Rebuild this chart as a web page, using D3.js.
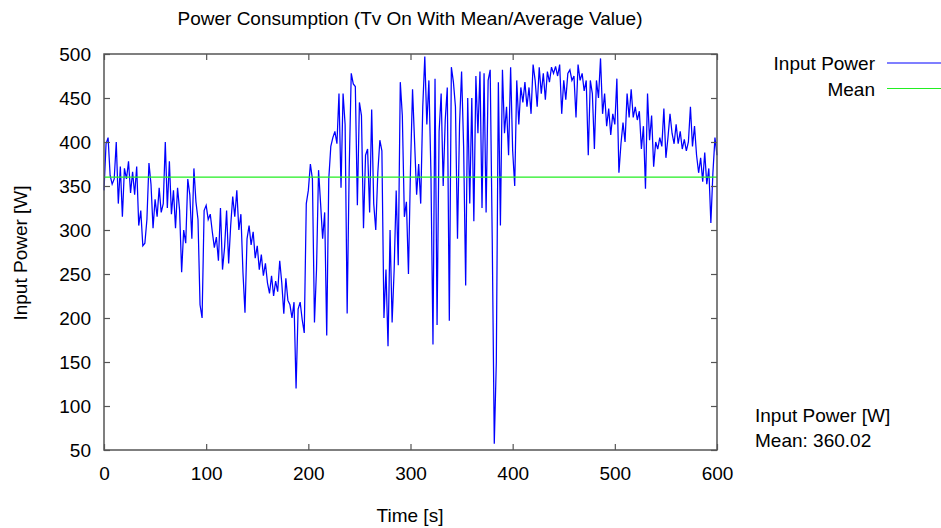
<!DOCTYPE html>
<html>
<head>
<meta charset="utf-8">
<script src="https://cdn.jsdelivr.net/npm/d3@7"></script>
<style>
  html, body { margin: 0; padding: 0; background: #fff; }
  svg text { font-family: "Liberation Sans", Arial, sans-serif; fill: #000; }
</style>
</head>
<body>
<svg id="chart" width="941" height="528"></svg>
<script>
// ---- data ----
const timeStep = 2; // seconds between samples
const inputPower = [
  345, 398, 405, 362, 352, 358, 400, 330, 372, 315,
  370, 358, 378, 342, 366, 340, 372, 305, 322, 282,
  285, 312, 376, 352, 302, 335, 315, 348, 320, 330,
  400, 325, 378, 318, 345, 302, 348, 322, 252, 300,
  285, 358, 340, 290, 370, 332, 312, 215, 200, 322,
  328, 312, 318, 298, 280, 292, 265, 325, 255, 280,
  322, 262, 305, 338, 315, 345, 300, 318, 252, 206,
  290, 305, 283, 298, 268, 282, 255, 272, 248, 262,
  240, 228, 248, 225, 242, 230, 265, 240, 205, 245,
  220, 215, 200, 218, 120, 210, 218, 198, 183, 330,
  345, 375, 358, 195, 255, 368, 330, 290, 320, 180,
  358, 395, 405, 412, 398, 455, 348, 455, 420, 205,
  370, 478, 466, 463, 328, 445, 430, 302, 385, 392,
  320, 437, 330, 300, 365, 402, 390, 200, 255, 168,
  300, 195, 255, 345, 260, 468, 430, 315, 332, 250,
  370, 460, 400, 340, 375, 330, 440, 497, 420, 470,
  365, 170, 472, 192, 412, 455, 350, 425, 462, 197,
  485, 468, 440, 290, 420, 480, 395, 237, 450, 330,
  450, 310, 475, 410, 480, 325, 478, 320, 470, 482,
  290, 57, 150, 468, 305, 482, 410, 440, 385, 485,
  390, 350, 470, 420, 462, 445, 468, 440, 462, 432,
  488, 470, 440, 485, 455, 478, 448, 480, 468, 485,
  478, 486, 475, 488, 432, 470, 448, 478, 482, 470,
  475, 428, 488, 470, 478, 458, 470, 385, 470, 455,
  392, 470, 450, 495, 432, 455, 418, 438, 408, 432,
  420, 472, 365, 398, 422, 400, 455, 428, 460, 428,
  440, 425, 435, 392, 418, 347, 455, 402, 430, 372,
  400, 392, 405, 395, 438, 382, 405, 432, 410, 398,
  420, 398, 412, 392, 403, 390, 400, 440, 395, 418,
  385, 365, 382, 355, 388, 352, 370, 308, 365, 405,
  385
];
const meanValue = 360.02;
const xTicks = [0, 100, 200, 300, 400, 500, 600];
const yTicks = [50, 100, 150, 200, 250, 300, 350, 400, 450, 500];
const titleText = "Power Consumption (Tv On With Mean/Average Value)";
const xLabel = "Time [s]";
const yLabel = "Input Power [W]";
const legendLabels = ["Input Power", "Mean"];
const infoLines = ["Input Power [W]", "Mean: " + meanValue.toFixed(2)];

// ---- layout ----
const svg = d3.select("#chart");
const L = 104, R = 717, T = 54, B = 450;
const x = d3.scaleLinear().domain([0, 600]).range([L, R]);
const y = d3.scaleLinear().domain([50, 500]).range([B, T]);
const axisColor = "#555";
const fs = 19;

const series = inputPower.map((v, i) => ({ t: i * timeStep, v }));

// Title
svg.append("text").attr("x", 410).attr("y", 25).attr("text-anchor", "middle")
  .style("font-size", fs + "px").text(titleText);

// Data line
svg.append("path").datum(series)
  .attr("fill", "none").attr("stroke", "#0000ff").attr("stroke-width", 1.25)
  .attr("d", d3.line().x(d => x(d.t)).y(d => y(d.v)));

// Mean line
svg.append("line").attr("x1", x(0)).attr("x2", x(600))
  .attr("y1", y(meanValue)).attr("y2", y(meanValue))
  .attr("stroke", "#22ee22").attr("stroke-width", 1.2);

// Axes (ticks inward, mirrored)
const tl = 6;
function styleAxis(g) {
  g.select(".domain").remove();
  g.selectAll(".tick line").attr("stroke", axisColor).attr("stroke-width", 1.2);
  g.selectAll(".tick text").style("font-size", fs + "px").attr("fill", "#000")
    .style("font-family", '"Liberation Sans", Arial, sans-serif');
}
const gx = svg.append("g").attr("transform", `translate(0,${B})`)
  .call(d3.axisBottom(x).tickValues(xTicks).tickSizeInner(-tl).tickSizeOuter(0).tickPadding(17).tickFormat(d3.format("d")));
styleAxis(gx);
const gxt = svg.append("g").attr("transform", `translate(0,${T})`)
  .call(d3.axisTop(x).tickValues(xTicks).tickSizeInner(-tl).tickSizeOuter(0).tickFormat(""));
styleAxis(gxt);
const gy = svg.append("g").attr("transform", `translate(${L},0)`)
  .call(d3.axisLeft(y).tickValues(yTicks).tickSizeInner(-tl).tickSizeOuter(0).tickPadding(13).tickFormat(d3.format("d")));
styleAxis(gy);
const gyr = svg.append("g").attr("transform", `translate(${R},0)`)
  .call(d3.axisRight(y).tickValues(yTicks).tickSizeInner(-tl).tickSizeOuter(0).tickFormat(""));
styleAxis(gyr);

// Frame
svg.append("rect").attr("x", L).attr("y", T).attr("width", R - L).attr("height", B - T)
  .attr("fill", "none").attr("stroke", axisColor).attr("stroke-width", 1.5);

// Axis labels
svg.append("text").attr("x", 410).attr("y", 522).attr("text-anchor", "middle")
  .style("font-size", fs + "px").text(xLabel);
svg.append("text").attr("transform", "translate(27,253) rotate(-90)").attr("text-anchor", "middle")
  .style("font-size", fs + "px").text(yLabel);

// Legend
const legColors = ["#0000ff", "#22ee22"];
legendLabels.forEach((lab, i) => {
  const ly = 63 + i * 25.5;
  svg.append("text").attr("x", 875).attr("y", ly + 7).attr("text-anchor", "end")
    .style("font-size", fs + "px").text(lab);
  svg.append("line").attr("x1", 887).attr("x2", 941).attr("y1", ly).attr("y2", ly)
    .attr("stroke", legColors[i]).attr("stroke-width", 1.2);
});

// Info text
infoLines.forEach((s, i) => {
  svg.append("text").attr("x", 755).attr("y", 422 + i * 24.5)
    .style("font-size", fs + "px").text(s);
});
</script>
</body>
</html>
